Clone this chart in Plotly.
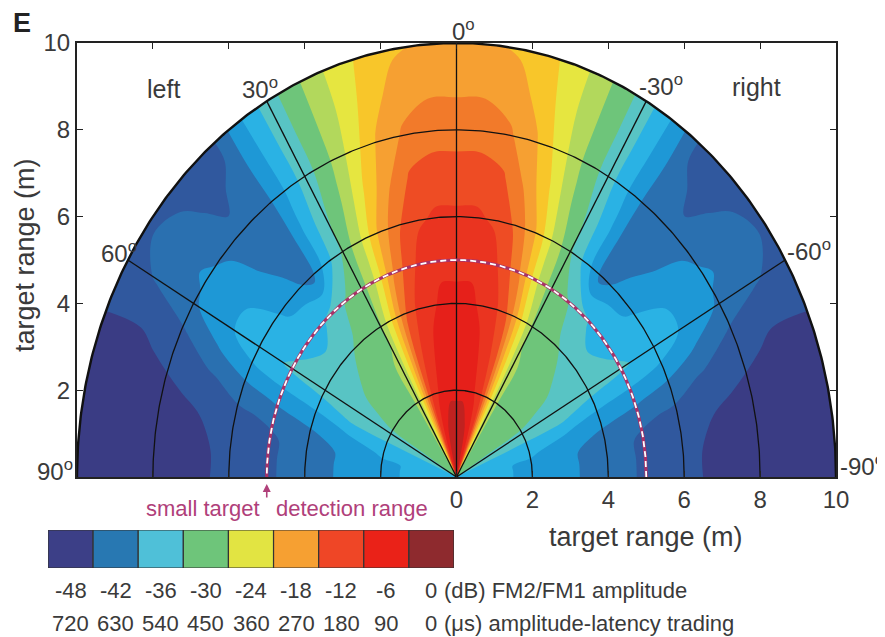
import numpy as np
import plotly.graph_objects as go

# ---------------- data ----------------
ranges = [0, 1, 2, 3, 4, 5, 6, 7, 8, 9, 10]                 # target range (m)
angles_half = [0, 5, 10, 15, 20, 25, 30, 35, 40, 45, 50, 55, 60, 65, 70, 75, 80, 85, 90]  # deg (left side, mirrored to right)

# FM2/FM1 amplitude (dB), one row per range, columns = angles_half
amp_r0 = [-1, -2, -3, -5, -9, -18, -28, -29, -29, -30, -30, -31, -32, -34, -35, -35, -36, -36, -36]
amp_r1 = [-3, -3, -4, -6, -10, -19, -28, -29, -29, -30, -30, -31, -32, -34, -36, -36, -37, -37, -37]
amp_r2 = [-5, -5, -6, -8, -11, -20, -28, -29, -29, -30, -30, -31, -32, -34, -36, -37, -38, -38, -38]
amp_r3 = [-6, -6, -7, -9, -12, -21, -28, -29, -30, -30, -31, -32, -32, -34, -37, -39, -40, -40, -40]
amp_r4 = [-7, -7, -8, -10, -14, -22, -29, -30, -31, -32, -33, -33, -33, -36, -39, -41, -42, -42, -42]
amp_r5 = [-8, -8, -9, -12, -17, -25, -30, -31, -33, -35, -36, -35, -34, -37, -40, -43, -44, -44, -44]
amp_r6 = [-10, -10, -11, -14, -19, -26, -31, -36, -42, -39, -38, -36, -36, -38, -42, -44, -45, -46, -46]
amp_r7 = [-12, -12, -13, -17, -22, -28, -32, -37, -43, -42, -39, -38, -38, -41, -44, -46, -47, -47, -47]
amp_r8 = [-15, -15, -16, -19, -24, -29, -33, -38, -43, -43, -41, -40, -41, -44, -46, -47, -48, -48, -48]
amp_r9 = [-17, -17, -18, -21, -25, -29, -33, -38, -43, -44, -43, -42, -43, -46, -47, -48, -48, -48, -48]
amp_r10 = [-19, -19, -20, -22, -25, -29, -33, -38, -44, -44, -44, -44, -45, -46, -47, -48, -48, -48, -49]
amp_rows = [amp_r0, amp_r1, amp_r2, amp_r3, amp_r4, amp_r5, amp_r6, amp_r7, amp_r8, amp_r9, amp_r10]

# colour bar
cbar_db = [-48, -42, -36, -30, -24, -18, -12, -6, 0]
cbar_us = [720, 630, 540, 450, 360, 270, 180, 90, 0]
cbar_colors = ['#3c3f87', '#2878b2', '#4fc0d8', '#6ec57a', '#e2e442', '#f6a032', '#ef4626', '#ea2218', '#8e2a2e']

# polar grid
grid_rings = [2, 4, 6, 8]
outer_ring = 10
grid_spokes = [-60, -30, 0, 30, 60]
detection_range = 5

x_ticks = [-10, -8, -6, -4, -2, 0, 2, 4, 6, 8, 10]
y_ticks = [2, 4, 6, 8, 10]

# ---------------- build grid ----------------
angles = [-a for a in angles_half[::-1]] + angles_half[1:]   # -90 .. 90 (positive = left)
th = np.radians(angles)
R, TH = np.meshgrid(np.array(ranges, float), th)           # shape (n_angles, n_ranges)
X = -R * np.sin(TH)
Y = R * np.cos(TH)
Z = np.array([[amp_rows[i][angles_half.index(abs(a))] for i in range(len(ranges))] for a in angles], float)

cscale_vals = [-48, -45, -42, -39, -36, -33, -30, -27, -24, -21, -18, -15, -12, -9, -6, -3, 0]
cscale_cols = ['#3a3c84', '#30589e', '#2a70b0', '#1e98d6', '#2ab2e4', '#58c4c4', '#6ec57a',
               '#b2d85c', '#e6e640', '#f8c62a', '#f6a032', '#f27a2a', '#ee4c24', '#ea3420',
               '#e6201a', '#c02220', '#8e2a2e']
colorscale = [[(v + 48) / 48.0, c] for v, c in zip(cscale_vals, cscale_cols)]

FONT = 'Liberation Sans, Arial, Helvetica, sans-serif'
TXT = '#3a3a3a'
MAG = '#b0407a'
W, H, OFF = 885, 637, 8   # page shows the figure shifted by the body margin


def PX(px):
    return (px - OFF) / W


def PY(py):
    return 1 - (py - OFF) / H


fig = go.Figure()

fig.add_trace(go.Carpet(
    carpet='polar', a=ranges, b=angles, x=X.tolist(), y=Y.tolist(),
    aaxis=dict(showgrid=False, showline=False, showticklabels='none', startline=False,
               endline=False, minorgridcount=0),
    baxis=dict(showgrid=False, showline=False, showticklabels='none', startline=False,
               endline=False, minorgridcount=0),
    xaxis='x', yaxis='y'))

fig.add_trace(go.Contourcarpet(
    carpet='polar', a=ranges, b=angles, z=Z.tolist(),
    colorscale=colorscale, zmin=-48, zmax=0, autocontour=False,
    contours=dict(start=-46.5, end=-1.5, size=3, coloring='fill', showlines=False),
    line=dict(width=0), showscale=False, xaxis='x', yaxis='y'))

# grid rings
t = np.radians(np.linspace(-90, 90, 361))
for r in grid_rings:
    fig.add_trace(go.Scatter(x=-r * np.sin(t), y=r * np.cos(t), mode='lines',
                             line=dict(color='#111111', width=1.3), hoverinfo='skip'))
for a in grid_spokes:
    ar = np.radians(a)
    fig.add_trace(go.Scatter(x=[0, -outer_ring * np.sin(ar)], y=[0, outer_ring * np.cos(ar)],
                             mode='lines', line=dict(color='#111111', width=1.3), hoverinfo='skip'))
fig.add_trace(go.Scatter(x=-outer_ring * np.sin(t), y=outer_ring * np.cos(t), mode='lines',
                         line=dict(color='#111111', width=2.4), hoverinfo='skip'))
# detection range (dashed magenta/white)
fig.add_trace(go.Scatter(x=-detection_range * np.sin(t), y=detection_range * np.cos(t), mode='lines',
                         line=dict(color='#a83268', width=3.2), hoverinfo='skip'))
fig.add_trace(go.Scatter(x=-detection_range * np.sin(t), y=detection_range * np.cos(t), mode='lines',
                         line=dict(color='white', width=1.8, dash='6px,4px'), hoverinfo='skip'))

# colour bar as bars
fig.add_trace(go.Bar(x=list(range(len(cbar_db))), y=[1] * len(cbar_db), width=1,
                     marker=dict(color=cbar_colors, line=dict(color='#333333', width=1.2)),
                     xaxis='x2', yaxis='y2', hoverinfo='skip'))

ann = []


def add(text, x, y, xref='x', yref='y', size=24, color=TXT, xanchor='center', yanchor='middle', **kw):
    ann.append(dict(text=text, x=x, y=y, xref=xref, yref=yref, showarrow=False,
                    font=dict(family=FONT, size=size, color=color),
                    xanchor=xanchor, yanchor=yanchor, **kw))


add('0<sup>o</sup>', PX(463), PY(30), xref='paper', yref='paper')
add('30<sup>o</sup>', -5.19, 8.96)
add('-30<sup>o</sup>', 5.4, 9.03)
add('60<sup>o</sup>', -8.9, 5.18)
add('-60<sup>o</sup>', 9.3, 5.23)
add('90<sup>o</sup>', PX(55), PY(470), xref='paper', yref='paper')
add('-90<sup>o</sup>', PX(862), PY(465), xref='paper', yref='paper')
add('left', -7.72, 8.94, size=25)
add('right', 7.9, 8.99, size=25)
add('target range (m)', 5.0, PY(537), yref='paper', size=27)
add('target range (m)', PX(25), PY(255), xref='paper', yref='paper', size=27, textangle=-90)
add('<b>E</b>', PX(22), PY(23), xref='paper', yref='paper', size=27, color='#222222')
add('small target', -5.12, PY(508), yref='paper', size=22, color=MAG, xanchor='right')
add('detection range', -4.82, PY(508), yref='paper', size=22, color=MAG, xanchor='left')
ann.append(dict(x=-5.0, y=PY(484), xref='x', yref='paper', text='', showarrow=True,
                ax=0, ay=15, arrowhead=2, arrowsize=1, arrowwidth=1.6, arrowcolor=MAG))
for i, (d, u) in enumerate(zip(cbar_db, cbar_us)):
    add(str(d), i, PY(590), xref='x2', yref='paper', size=22)
    add(str(u), i, PY(623), xref='x2', yref='paper', size=22)
add('(dB) FM2/FM1 amplitude', PX(442), PY(590), xref='paper', yref='paper', size=22, xanchor='left')
add('(\u03bcs) amplitude-latency trading', PX(442), PY(623), xref='paper', yref='paper', size=22, xanchor='left')

fig.update_layout(
    width=W, height=H, margin=dict(l=0, r=0, t=0, b=0, pad=0, autoexpand=False),
    paper_bgcolor='white', plot_bgcolor='white', showlegend=False,
    font=dict(family=FONT, color=TXT),
    annotations=ann,
    xaxis=dict(domain=[PX(77), PX(836)], range=[-10, 10], showgrid=False, zeroline=False,
               showline=True, linecolor='#222222', linewidth=2, mirror='allticks', automargin=False,
               ticks='inside', ticklen=6, tickcolor='#222222', tickwidth=1.2,
               tickvals=x_ticks, ticktext=['' if v < 0 else str(v) for v in x_ticks],
               tickfont=dict(size=24, color=TXT, family=FONT), fixedrange=True),
    yaxis=dict(domain=[PY(477), PY(43)], range=[0, 10], showgrid=False, zeroline=False,
               showline=True, linecolor='#222222', linewidth=2, mirror='allticks', automargin=False,
               ticks='inside', ticklen=6, tickcolor='#222222', tickwidth=1.2,
               tickvals=y_ticks, ticktext=[str(v) for v in y_ticks],
               tickfont=dict(size=24, color=TXT, family=FONT), fixedrange=True),
    xaxis2=dict(domain=[PX(48), PX(454)], range=[-0.5, 8.5], anchor='y2', showgrid=False,
                zeroline=False, showticklabels=False, showline=False, fixedrange=True, automargin=False),
    yaxis2=dict(domain=[PY(568), PY(530)], range=[0, 1], anchor='x2', showgrid=False,
                zeroline=False, showticklabels=False, showline=False, fixedrange=True, automargin=False),
)

fig.write_html('out.html')
